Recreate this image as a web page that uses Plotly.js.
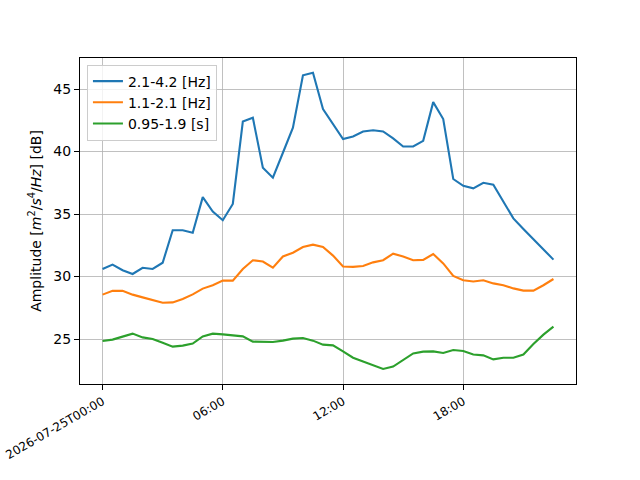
<!DOCTYPE html>
<html>
<head>
<meta charset="utf-8">
<script src="https://cdn.plot.ly/plotly-3.0.1.min.js"></script>
<style>
  html, body { margin: 0; padding: 0; background: #ffffff; }
  #chart { width: 640px; height: 480px; }
</style>
</head>
<body>
<div id="chart"></div>
<script>
// ── Data (one sample every 30 min) ──
const DAY = "2026-07-25";
const TIMES = [
  "00:00", "00:30", "01:00", "01:30", "02:00", "02:30", "03:00", "03:30",
  "04:00", "04:30", "05:00", "05:30", "06:00", "06:30", "07:00", "07:30",
  "08:00", "08:30", "09:00", "09:30", "10:00", "10:30", "11:00", "11:30",
  "12:00", "12:30", "13:00", "13:30", "14:00", "14:30", "15:00", "15:30",
  "16:00", "16:30", "17:00", "17:30", "18:00", "18:30", "19:00", "19:30",
  "20:00", "20:30", "21:00", "21:30", "22:00", "22:30",
];

const BAND_HIGH = [
  30.6, 30.95, 30.5, 30.2, 30.7, 30.6, 31.1, 33.7, 33.7, 33.5, 36.35, 35.2,
  34.5, 35.8, 42.4, 42.7, 38.7, 37.9, 39.9, 41.9, 46.1, 46.3, 43.4, 42.2,
  41.0, 41.2, 41.6, 41.7, 41.6, 41.05, 40.4, 40.4, 40.85, 43.95, 42.6, 37.8,
  37.25, 37.05, 37.5, 37.35, 36.0, 34.65, 33.8, 33.0, 32.2, 31.35,
];
const BAND_MID = [
  28.55, 28.85, 28.85, 28.55, 28.33, 28.1, 27.9, 27.93, 28.2, 28.57, 29.03, 29.3,
  29.67, 29.67, 30.6, 31.3, 31.2, 30.7, 31.6, 31.9, 32.36, 32.55, 32.36, 31.67,
  30.8, 30.77, 30.84, 31.13, 31.3, 31.83, 31.6, 31.3, 31.33, 31.8, 31.05, 30.04,
  29.7, 29.6, 29.7, 29.45, 29.3, 29.05, 28.87, 28.87, 29.3, 29.8,
];
const BAND_LOW = [
  24.84, 24.95, 25.19, 25.43, 25.13, 25.0, 24.7, 24.39, 24.47, 24.63, 25.21, 25.43,
  25.37, 25.29, 25.21, 24.79, 24.76, 24.76, 24.87, 25.03, 25.08, 24.87, 24.55, 24.49,
  24.01, 23.5, 23.2, 22.92, 22.6, 22.79, 23.35, 23.85, 23.99, 24.01, 23.88, 24.12,
  24.04, 23.76, 23.69, 23.37, 23.5, 23.5, 23.76, 24.6, 25.35, 25.99,
];

const SERIES_NAMES = ["2.1-4.2 [Hz]", "1.1-2.1 [Hz]", "0.95-1.9 [s]"];
const TICK_VALS = ["00:00", "06:00", "12:00", "18:00"];
const TICK_TEXT = ["2026-07-25T00:00", "06:00", "12:00", "18:00"];
const Y_TICKS = [25, 30, 35, 40, 45];

// ── Style ──
const COLORS = ["#1f77b4", "#ff7f0e", "#2ca02c"];
const FONT = "DejaVu Sans, sans-serif";

const x = TIMES.map((t) => `${DAY} ${t}`);
const traces = [BAND_HIGH, BAND_MID, BAND_LOW].map((ys, i) => ({
  type: "scatter",
  mode: "lines",
  name: SERIES_NAMES[i],
  x: x,
  y: ys,
  line: { color: COLORS[i], width: 2.1 },
}));

const axisBase = {
  showline: true,
  linecolor: "#000000",
  linewidth: 1,
  mirror: true,
  ticks: "outside",
  ticklen: 5,
  tickwidth: 1,
  tickcolor: "#000000",
  showgrid: true,
  gridcolor: "#b0b0b0",
  gridwidth: 0.8,
  zeroline: false,
};

const layout = {
  width: 640,
  height: 480,
  margin: { t: 58, r: 64, b: 96, l: 80 },
  paper_bgcolor: "#ffffff",
  plot_bgcolor: "#ffffff",
  font: { family: FONT, size: 14, color: "#000000" },
  showlegend: true,
  legend: {
    x: 0.014,
    y: 0.98,
    xanchor: "left",
    yanchor: "top",
    bgcolor: "rgba(255,255,255,0.8)",
    bordercolor: "#cccccc",
    borderwidth: 1,
    font: { family: FONT, size: 14, color: "#000000" },
    tracegroupgap: 0,
  },
  xaxis: {
    ...axisBase,
    type: "date",
    range: [`2026-07-24 22:52:30`, `${DAY} 23:37:30`],
    tickmode: "array",
    tickvals: TICK_VALS.map((t) => `${DAY} ${t}`),
    ticktext: TICK_TEXT,
    tickangle: -30,
    tickfont: { family: FONT, size: 12, color: "#000000" },
  },
  yaxis: {
    ...axisBase,
    range: [21.4, 47.48],
    tickmode: "array",
    tickvals: Y_TICKS,
    ticktext: Y_TICKS.map(String),
    tickfont: { family: FONT, size: 14, color: "#000000" },
    title: {
      text: "Amplitude [<i>m</i><sup>2</sup>/<i>s</i><sup>4</sup>/<i>Hz</i>] [dB]",
      font: { family: FONT, size: 14, color: "#000000" },
      standoff: 8,
    },
  },
};

Plotly.newPlot("chart", traces, layout, { staticPlot: true, displayModeBar: false });
</script>
</body>
</html>
